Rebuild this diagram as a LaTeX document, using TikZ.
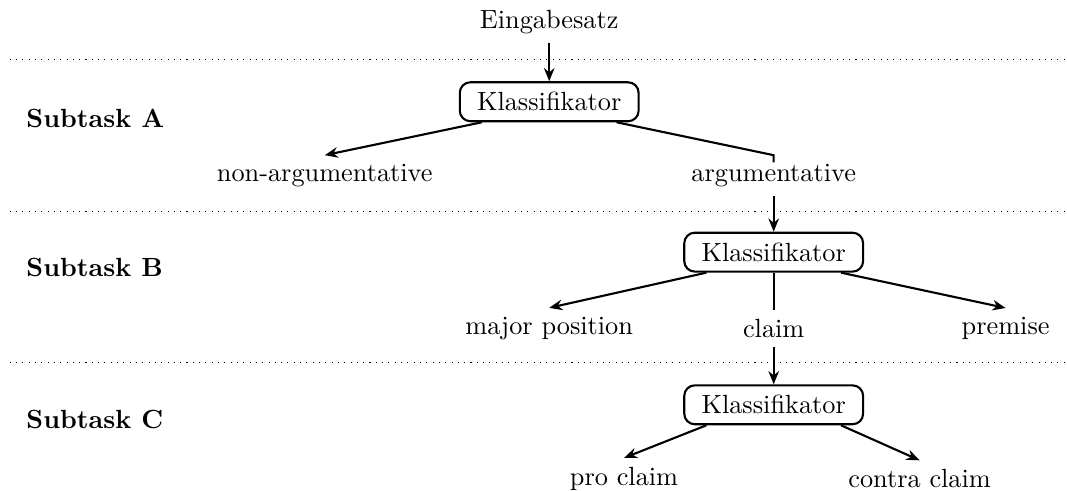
\documentclass[tikz,border=0pt]{standalone}
\usepackage{amsmath,amssymb}
\usepackage{tikz}
\usetikzlibrary{arrows.meta,positioning}

\begin{document}
\begin{tikzpicture}[
        >={Stealth[length=5pt,width=4pt]},
        classifier/.style={draw,thick,rounded corners,minimum width=2.39cm,minimum height=0.52cm},
        leaf/.style={},
        task/.style={font=\bfseries,anchor=west},
        conn/.style={thick},
        sep/.style={dotted,thin}
      ]
        \useasboundingbox (0,0) rectangle (14.26,-6.56);

        % separators between the subtasks
        \draw[sep] (0.13,-0.80) -- (14.26,-0.80);
        \draw[sep] (0.13,-2.83) -- (14.26,-2.83);
        \draw[sep] (0.13,-4.85) -- (14.26,-4.85);

        \node (input) at (7.34,-0.29) {Eingabesatz};
        \node[classifier] (kA) at ([yshift=-1.07cm]input.center) {Klassifikator};
        \node[leaf] (nonarg) at ([shift={(-3,-0.99)}]kA.center) {non-argumentative};
        \node[leaf] (arg) at ([shift={(3,-0.99)}]kA.center) {argumentative};

        \node[classifier] (kB) at ([yshift=-1.02cm]arg.center) {Klassifikator};
        \node[leaf] (major) at ([shift={(-3,-1.02)}]kB.center) {major position};
        \node[leaf] (claim) at ([yshift=-1.02cm]kB.center) {claim};
        \node[leaf] (premise) at ([shift={(3.1,-1.02)}]kB.center) {premise};

        \node[classifier] (kC) at ([yshift=-1.02cm]claim.center) {Klassifikator};
        \node[leaf] (pro) at ([shift={(-2,-0.99)}]kC.center) {pro claim};
        \node[leaf] (contra) at ([shift={(1.95,-0.99)}]kC.center) {contra claim};

        \node[task] (tA) at (0.23,-1.58) {Subtask A};
        \node[task] (tB) at (0.23,-3.58) {Subtask B};
        \node[task] (tC) at (0.23,-5.60) {Subtask C};

        \draw[conn,->] (input) -- (kA);
        \draw[conn,->] ([xshift=-0.9cm]kA.south) -- (nonarg.north);
        \draw[conn] ([xshift=0.9cm]kA.south) -- (arg.north) -- ([yshift=-2.7pt]arg.north);

        \draw[conn,->] (arg) -- (kB);
        \draw[conn,->] ([xshift=-0.9cm]kB.south) -- (major.north);
        \draw[conn] (kB.south) -- (claim.north);
        \draw[conn,->] ([xshift=0.9cm]kB.south) -- (premise.north);

        \draw[conn,->] (claim) -- (kC);
        \draw[conn,->] ([xshift=-0.9cm]kC.south) -- (pro.north);
        \draw[conn,->] ([xshift=0.9cm]kC.south) -- (contra.north);
      \end{tikzpicture}
\end{document}
